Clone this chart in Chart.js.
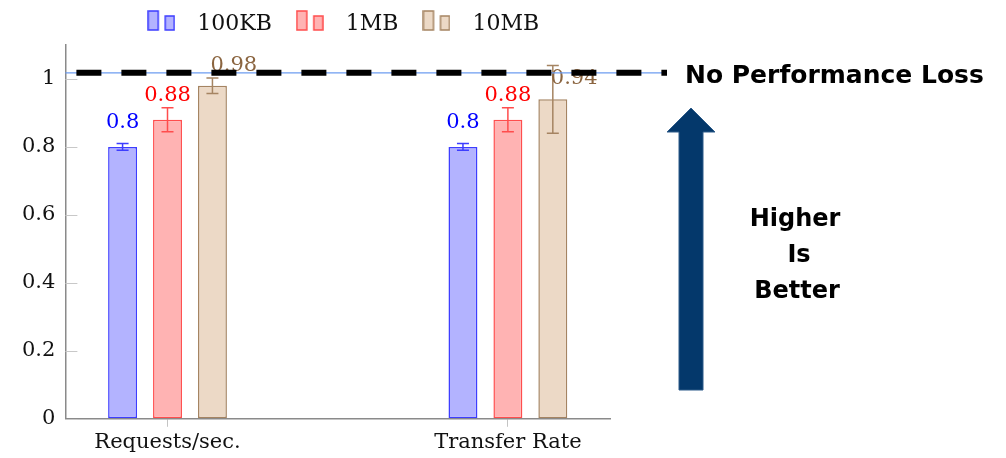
<!DOCTYPE html>
<html>
<head>
<meta charset="utf-8">
<script src="https://cdn.jsdelivr.net/npm/chart.js@4.4.1/dist/chart.umd.min.js"></script>
<style>
  body { margin: 0; background: #fff; }
  #wrap { width: 1006px; height: 458px; }
</style>
</head>
<body>
<div id="wrap"><canvas id="perfChart"></canvas></div>
<script>
// values
const categories = ["Requests/sec.", "Transfer Rate"];
const seriesNames = ["100KB", "1MB", "10MB"];
const values100KB = [0.8, 0.8];
const values1MB = [0.88, 0.88];
const values10MB = [0.98, 0.94];
const err100KB = [0.01, 0.01];
const err1MB = [0.035, 0.035];
const err10MB = [0.023, 0.1];
const yTicks = [0, 0.2, 0.4, 0.6, 0.8, 1];
const yMax = 1.1;
const noLossLevel = 1.018;

const seriesValues = [values100KB, values1MB, values10MB];
const seriesErrors = [err100KB, err1MB, err10MB];
const fills = ["#b3b3ff", "#ffb3b3", "#ecd9c6"];
const borders = ["#3d3dff", "#ff4d4d", "#a58462"];
const labelColors = ["#0000ff", "#ff0000", "#8b6540"];

const serif = "'DejaVu Serif', serif";

// little two-bar legend icon like pgfplots ybar legend
function makeIcon(fill, stroke) {
  const c = document.createElement("canvas");
  c.width = 28;
  c.height = 28;
  const g = c.getContext("2d");
  g.fillStyle = fill;
  g.strokeStyle = stroke;
  g.lineWidth = 1.5;
  g.fillRect(1, 1, 10, 19);
  g.strokeRect(1, 1, 10, 19);
  g.fillRect(18, 6, 9, 14);
  g.strokeRect(18, 6, 9, 14);
  return c;
}
const legendIcons = fills.map((f, i) => makeIcon(f, borders[i]));

const innerTicks = {
  id: "innerTicks",
  beforeDatasetsDraw(chart) {
    const ctx = chart.ctx, y = chart.scales.y, left = chart.chartArea.left;
    ctx.save();
    ctx.strokeStyle = "#c8c8c8";
    ctx.lineWidth = 1;
    y.ticks.forEach(t => {
      const py = Math.round(y.getPixelForValue(t.value)) + 0.5;
      ctx.beginPath();
      ctx.moveTo(left, py);
      ctx.lineTo(left + 12, py);
      ctx.stroke();
    });
    ctx.restore();
  }
};

const errorBars = {
  id: "errorBars",
  afterDatasetsDraw(chart) {
    const ctx = chart.ctx, y = chart.scales.y;
    chart.data.datasets.forEach((ds, i) => {
      chart.getDatasetMeta(i).data.forEach((bar, j) => {
        const v = ds.data[j].y, e = seriesErrors[i][j];
        const top = y.getPixelForValue(v + e), bot = y.getPixelForValue(v - e);
        ctx.save();
        ctx.strokeStyle = borders[i];
        ctx.lineWidth = 1.5;
        ctx.beginPath();
        ctx.moveTo(bar.x, top); ctx.lineTo(bar.x, bot);
        ctx.moveTo(bar.x - 6, top); ctx.lineTo(bar.x + 6, top);
        ctx.moveTo(bar.x - 6, bot); ctx.lineTo(bar.x + 6, bot);
        ctx.stroke();
        ctx.restore();
      });
    });
  }
};

const valueLabels = {
  id: "valueLabels",
  afterDatasetsDraw(chart) {
    const ctx = chart.ctx;
    ctx.save();
    ctx.font = "21px " + serif;
    ctx.textBaseline = "alphabetic";
    chart.data.datasets.forEach((ds, i) => {
      chart.getDatasetMeta(i).data.forEach((bar, j) => {
        ctx.fillStyle = labelColors[i];
        if (i === 2) {
          ctx.textAlign = "left";
          ctx.fillText(String(ds.data[j].y), bar.x - 2, bar.y - 15);
        } else {
          ctx.textAlign = "center";
          ctx.fillText(String(ds.data[j].y), bar.x, bar.y - 19);
        }
      });
    });
    ctx.restore();
  }
};

// dashed "no loss" line, arrow and side notes
const annotations = {
  id: "annotations",
  afterDraw(chart) {
    const ctx = chart.ctx, area = chart.chartArea;
    const ly = chart.scales.y.getPixelForValue(noLossLevel);
    const lineEnd = 667;
    ctx.save();
    ctx.strokeStyle = "#6d9cf0";
    ctx.lineWidth = 1.2;
    ctx.beginPath();
    ctx.moveTo(area.left, ly);
    ctx.lineTo(lineEnd, ly);
    ctx.stroke();

    ctx.strokeStyle = "#000";
    ctx.lineWidth = 6;
    ctx.setLineDash([25, 20]);
    ctx.beginPath();
    ctx.moveTo(area.left + 11, ly);
    ctx.lineTo(lineEnd, ly);
    ctx.stroke();
    ctx.setLineDash([]);

    ctx.fillStyle = "#000";
    ctx.font = "bold 25px 'DejaVu Sans', sans-serif";
    ctx.textAlign = "left";
    ctx.textBaseline = "alphabetic";
    ctx.fillText("No Performance Loss", 685, ly + 10);

    // arrow
    ctx.fillStyle = "#04386b";
    ctx.strokeStyle = "#2d5b89";
    ctx.lineWidth = 1;
    ctx.beginPath();
    ctx.moveTo(679, 390);
    ctx.lineTo(679, 132);
    ctx.lineTo(667, 132);
    ctx.lineTo(691, 108);
    ctx.lineTo(715, 132);
    ctx.lineTo(703, 132);
    ctx.lineTo(703, 390);
    ctx.closePath();
    ctx.fill();
    ctx.stroke();

    ctx.fillStyle = "#000";
    ctx.font = "bold 24px 'DejaVu Sans', sans-serif";
    ctx.textAlign = "center";
    ctx.fillText("Higher", 795, 226);
    ctx.fillText("Is", 799, 262);
    ctx.fillText("Better", 797, 298);
    ctx.restore();
  }
};

const datasets = seriesNames.map((name, i) => ({
  label: name,
  data: seriesValues[i].map((v, j) => ({ x: j, y: v })),
  backgroundColor: fills[i],
  borderColor: borders[i],
  borderWidth: 1.5,
  borderSkipped: false
}));

new Chart(document.getElementById("perfChart"), {
  type: "bar",
  data: { datasets: datasets },
  options: {
    responsive: true,
    maintainAspectRatio: false,
    animation: false,
    layout: { padding: { left: 12, right: 396, top: 0, bottom: 0 } },
    datasets: { bar: { categoryPercentage: 0.396, barPercentage: 0.644 } },
    scales: {
      x: {
        type: "linear",
        offset: false,
        min: -0.3,
        max: 1.3,
        afterBuildTicks: s => { s.ticks = categories.map((c, i) => ({ value: i })); },
        ticks: {
          callback: v => categories[v],
          font: { family: serif, size: 21 },
          color: "#111",
          padding: 3,
          maxRotation: 0,
          autoSkip: false
        },
        grid: { offset: false, drawOnChartArea: false, tickLength: 8, color: "#c4c4c4" },
        border: { color: "#8a8a8a", width: 1.5 }
      },
      y: {
        min: 0,
        max: yMax,
        afterBuildTicks: s => { s.ticks = yTicks.map(v => ({ value: v })); },
        ticks: {
          callback: v => String(v),
          font: { family: serif, size: 21 },
          color: "#111",
          padding: 10
        },
        grid: { drawOnChartArea: false, drawTicks: false },
        border: { color: "#8a8a8a", width: 1.5 }
      }
    },
    plugins: {
      tooltip: { enabled: false },
      legend: {
        position: "top",
        fullSize: false,
        labels: {
          usePointStyle: true,
          pointStyleWidth: 50,
          padding: 13,
          font: { family: serif, size: 22 },
          color: "#111",
          generateLabels: chart =>
            Chart.defaults.plugins.legend.labels.generateLabels(chart)
              .map((item, i) => Object.assign(item, { pointStyle: legendIcons[i] }))
        }
      }
    }
  },
  plugins: [innerTicks, errorBars, valueLabels, annotations]
});
</script>
</body>
</html>
